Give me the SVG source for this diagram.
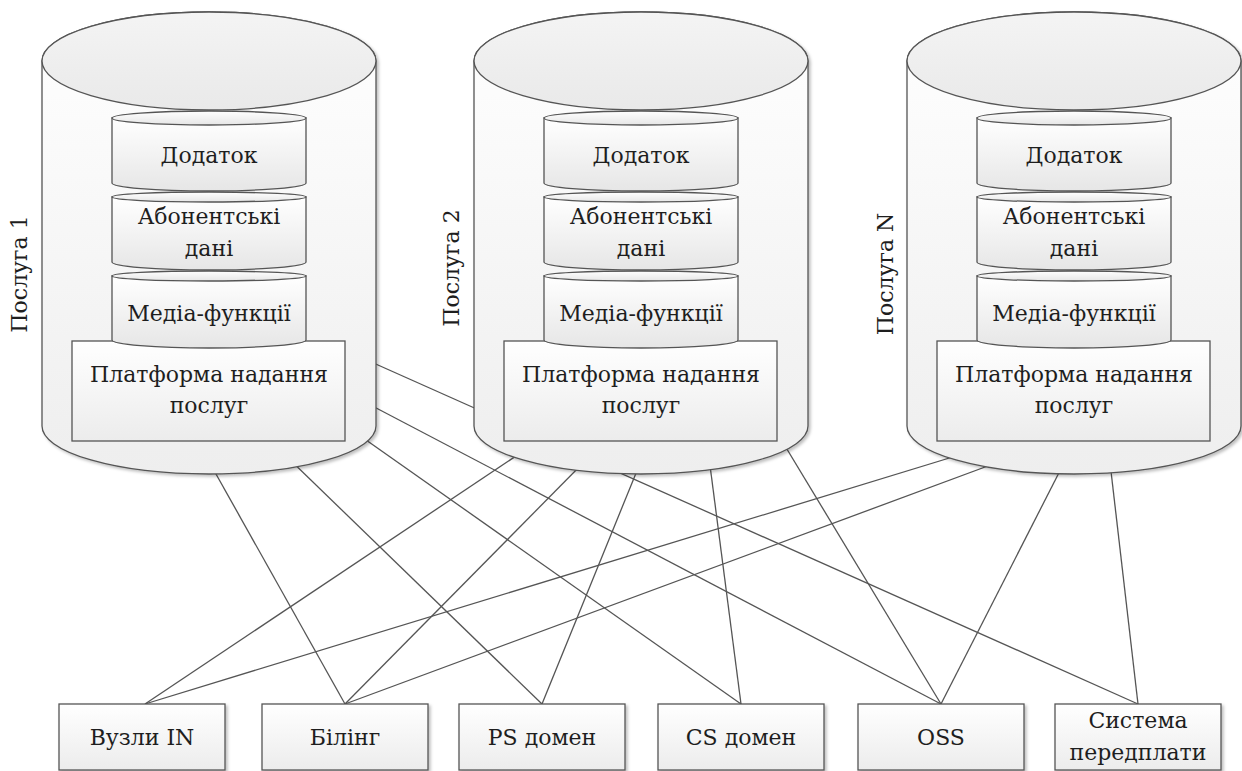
<svg xmlns="http://www.w3.org/2000/svg" width="1242" height="771" viewBox="0 0 1242 771">
<defs>
<linearGradient id="gBody" x1="0" y1="0" x2="0" y2="1"><stop offset="0" stop-color="#ffffff"/><stop offset="1" stop-color="#eeeeee"/></linearGradient>
<linearGradient id="gTop" x1="0" y1="0" x2="0" y2="1"><stop offset="0" stop-color="#f4f4f4"/><stop offset="1" stop-color="#e9e9e9"/></linearGradient>
<linearGradient id="gDisk" x1="0" y1="0" x2="0" y2="1"><stop offset="0" stop-color="#ffffff"/><stop offset="1" stop-color="#e6e6e6"/></linearGradient>
<linearGradient id="gBox" x1="0" y1="0" x2="0" y2="1"><stop offset="0" stop-color="#ffffff"/><stop offset="1" stop-color="#ececec"/></linearGradient>
<filter id="sh" x="-5%" y="-5%" width="110%" height="115%"><feDropShadow dx="2" dy="2" stdDeviation="1.5" flood-color="#000" flood-opacity="0.25"/></filter>
</defs>
<style>
.cyl{fill:url(#gBody);stroke:#555;stroke-width:1.3}
.cyltop{fill:url(#gTop);stroke:#555;stroke-width:1.3}
.disk{fill:url(#gDisk);stroke:#555;stroke-width:1.3}
.plat{fill:url(#gBox);stroke:#555;stroke-width:1.3}
.box{fill:url(#gBox);stroke:#555;stroke-width:1.3}
.t{font-family:'DejaVu Serif','Liberation Serif',serif;font-size:22px;fill:#1e1e1e;text-anchor:middle}
.conn line{stroke:#555;stroke-width:1.3}
</style>

<g id="connectors" class="conn">
<line x1="207" y1="458" x2="345" y2="704"/>
<line x1="283" y1="453" x2="542" y2="704"/>
<line x1="349" y1="428" x2="741" y2="704"/>
<line x1="359" y1="399" x2="941" y2="704"/>
<line x1="360" y1="357" x2="1138" y2="704"/>
<line x1="531" y1="446" x2="145" y2="704"/>
<line x1="588" y1="458" x2="345" y2="704"/>
<line x1="643" y1="456" x2="542" y2="704"/>
<line x1="708" y1="450" x2="741" y2="704"/>
<line x1="776" y1="431" x2="941" y2="704"/>
<line x1="969" y1="452" x2="145" y2="704"/>
<line x1="1004" y1="460" x2="345" y2="704"/>
<line x1="1067" y1="457" x2="941" y2="704"/>
<line x1="1109" y1="454" x2="1138" y2="704"/>
</g>

<g id="service1" transform="translate(209,0)">
<g filter="url(#sh)">
<path class="cyl" d="M -167,61 V 426 A 167 48 0 0 0 167,426 V 61 A 167 49 0 0 0 -167,61 Z"/>
<ellipse class="cyltop" cx="0" cy="61" rx="167" ry="49"/>
<rect class="plat" x="-137" y="341" width="273" height="100"/>
<path class="disk" d="M -97,118 V 183 A 97 8 0 0 0 97,183 V 118 Z"/>
<ellipse class="disk" cx="0" cy="118" rx="97" ry="7"/>
<path class="disk" d="M -97,197 V 262 A 97 8 0 0 0 97,262 V 197 Z"/>
<ellipse class="disk" cx="0" cy="197" rx="97" ry="5"/>
<path class="disk" d="M -97,276 V 340 A 97 8 0 0 0 97,340 V 276 Z"/>
<ellipse class="disk" cx="0" cy="276" rx="97" ry="5"/>
</g>
<text class="t" x="0" y="163">Додаток</text>
<text class="t" x="0" y="224">Абонентські</text>
<text class="t" x="0" y="256">дані</text>
<text class="t" x="0" y="321">Медіа-функції</text>
<text class="t" x="0" y="382">Платформа надання</text>
<text class="t" x="0" y="413">послуг</text>
<text class="t" transform="translate(-182,274) rotate(-90)">Послуга 1</text>
</g>

<g id="service2" transform="translate(641,0)">
<g filter="url(#sh)">
<path class="cyl" d="M -167,61 V 426 A 167 48 0 0 0 167,426 V 61 A 167 49 0 0 0 -167,61 Z"/>
<ellipse class="cyltop" cx="0" cy="61" rx="167" ry="49"/>
<rect class="plat" x="-137" y="341" width="273" height="100"/>
<path class="disk" d="M -97,118 V 183 A 97 8 0 0 0 97,183 V 118 Z"/>
<ellipse class="disk" cx="0" cy="118" rx="97" ry="7"/>
<path class="disk" d="M -97,197 V 262 A 97 8 0 0 0 97,262 V 197 Z"/>
<ellipse class="disk" cx="0" cy="197" rx="97" ry="5"/>
<path class="disk" d="M -97,276 V 340 A 97 8 0 0 0 97,340 V 276 Z"/>
<ellipse class="disk" cx="0" cy="276" rx="97" ry="5"/>
</g>
<text class="t" x="0" y="163">Додаток</text>
<text class="t" x="0" y="224">Абонентські</text>
<text class="t" x="0" y="256">дані</text>
<text class="t" x="0" y="321">Медіа-функції</text>
<text class="t" x="0" y="382">Платформа надання</text>
<text class="t" x="0" y="413">послуг</text>
<text class="t" transform="translate(-182,268) rotate(-90)">Послуга 2</text>
</g>

<g id="serviceN" transform="translate(1074,0)">
<g filter="url(#sh)">
<path class="cyl" d="M -167,61 V 426 A 167 48 0 0 0 167,426 V 61 A 167 49 0 0 0 -167,61 Z"/>
<ellipse class="cyltop" cx="0" cy="61" rx="167" ry="49"/>
<rect class="plat" x="-137" y="341" width="273" height="100"/>
<path class="disk" d="M -97,118 V 183 A 97 8 0 0 0 97,183 V 118 Z"/>
<ellipse class="disk" cx="0" cy="118" rx="97" ry="7"/>
<path class="disk" d="M -97,197 V 262 A 97 8 0 0 0 97,262 V 197 Z"/>
<ellipse class="disk" cx="0" cy="197" rx="97" ry="5"/>
<path class="disk" d="M -97,276 V 340 A 97 8 0 0 0 97,340 V 276 Z"/>
<ellipse class="disk" cx="0" cy="276" rx="97" ry="5"/>
</g>
<text class="t" x="0" y="163">Додаток</text>
<text class="t" x="0" y="224">Абонентські</text>
<text class="t" x="0" y="256">дані</text>
<text class="t" x="0" y="321">Медіа-функції</text>
<text class="t" x="0" y="382">Платформа надання</text>
<text class="t" x="0" y="413">послуг</text>
<text class="t" transform="translate(-181,274) rotate(-90)">Послуга N</text>
</g>

<g id="box-in"><rect class="box" x="59" y="704" width="166" height="66" filter="url(#sh)"/><text class="t" x="142" y="745">Вузли IN</text></g>
<g id="box-billing"><rect class="box" x="262" y="704" width="166" height="66" filter="url(#sh)"/><text class="t" x="345" y="745">Білінг</text></g>
<g id="box-ps"><rect class="box" x="459" y="704" width="166" height="66" filter="url(#sh)"/><text class="t" x="542" y="745">PS домен</text></g>
<g id="box-cs"><rect class="box" x="658" y="704" width="166" height="66" filter="url(#sh)"/><text class="t" x="741" y="745">CS домен</text></g>
<g id="box-oss"><rect class="box" x="858" y="704" width="166" height="66" filter="url(#sh)"/><text class="t" x="941" y="745">OSS</text></g>
<g id="box-subs"><rect class="box" x="1055" y="704" width="166" height="66" filter="url(#sh)"/><text class="t" x="1138" y="728">Система</text><text class="t" x="1138" y="760">передплати</text></g>
</svg>
